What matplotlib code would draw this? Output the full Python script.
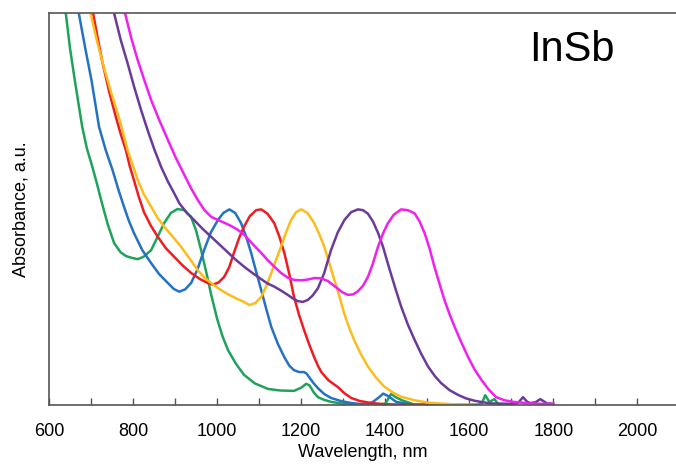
import matplotlib.pyplot as plt
from matplotlib.ticker import MultipleLocator

plt.rcParams['font.family'] = ['Liberation Sans', 'DejaVu Sans']

# wavelength (nm) / absorbance (a.u., 0..1 window)
green_wl = [625, 640, 650, 660, 670, 679, 690, 703, 714, 724, 740, 755, 770, 783, 795,
            811, 825, 843, 858, 874, 890, 906, 922, 938, 950, 962, 975, 986, 1000, 1013,
            1026, 1045, 1064, 1090, 1121, 1150, 1183, 1200, 1212, 1220, 1230, 1240, 1255,
            1271, 1295, 1319, 1380, 1400, 1414, 1425, 1440, 1470, 1620, 1630, 1638, 1648,
            1660, 1670, 1690]
green_ab = [1.10, 0.999, 0.91, 0.838, 0.77, 0.71, 0.655, 0.608, 0.565, 0.523, 0.46,
            0.413, 0.39, 0.38, 0.376, 0.372, 0.378, 0.395, 0.428, 0.464, 0.49, 0.50,
            0.497, 0.48, 0.445, 0.395, 0.335, 0.281, 0.22, 0.175, 0.14, 0.105, 0.077,
            0.055, 0.041, 0.037, 0.036, 0.044, 0.054, 0.05, 0.032, 0.02, 0.013, 0.008,
            0.004, 0.001, 0.001, 0.003, 0.028, 0.02, 0.012, 0.001, 0.001, 0.004, 0.025,
            0.008, 0.015, 0.001, 0.001]

blue_wl = [655, 671, 687, 701, 710, 719, 735, 751, 765, 779, 790, 802, 822, 843, 862,
           883, 897, 910, 924, 938, 953, 969, 985, 1002, 1015, 1029, 1043, 1057, 1069,
           1081, 1093, 1105, 1117, 1129, 1145, 1160, 1172, 1183, 1195, 1207, 1213, 1219,
           1230, 1240, 1255, 1271, 1295, 1319, 1355, 1371, 1388, 1395, 1407, 1426, 1462]
blue_ab = [1.08, 0.999, 0.906, 0.829, 0.77, 0.71, 0.65, 0.60, 0.55, 0.504, 0.47, 0.439,
           0.395, 0.362, 0.334, 0.311, 0.296, 0.289, 0.295, 0.311, 0.345, 0.395, 0.44,
           0.472, 0.49, 0.499, 0.49, 0.464, 0.43, 0.388, 0.34, 0.293, 0.245, 0.199,
           0.155, 0.122, 0.10, 0.089, 0.084, 0.084, 0.08, 0.071, 0.055, 0.043, 0.028,
           0.018, 0.01, 0.005, 0.001, 0.008, 0.022, 0.029, 0.023, 0.008, 0.001]

red_wl = [690, 705, 716, 727, 743, 759, 771, 783, 792, 802, 814, 826, 842, 859, 878,
          898, 918, 938, 958, 978, 990, 1004, 1017, 1029, 1040, 1052, 1064, 1078, 1093,
          1105, 1120, 1136, 1148, 1160, 1172, 1183, 1195, 1207, 1219, 1231, 1240, 1248,
          1265, 1287, 1303, 1319, 1340, 1367, 1400, 1438, 1500]
red_ab = [1.08, 0.999, 0.935, 0.875, 0.80, 0.735, 0.69, 0.65, 0.61, 0.574, 0.53, 0.492,
          0.458, 0.429, 0.40, 0.378, 0.356, 0.337, 0.322, 0.311, 0.307, 0.313, 0.327,
          0.352, 0.388, 0.425, 0.455, 0.482, 0.497, 0.499, 0.488, 0.464, 0.43, 0.388,
          0.333, 0.276, 0.23, 0.191, 0.155, 0.122, 0.10, 0.084, 0.063, 0.046, 0.03,
          0.018, 0.01, 0.005, 0.002, 0.001, 0.001]

yellow_wl = [684, 699, 715, 731, 747, 763, 775, 787, 800, 811, 826, 843, 858, 874, 894,
             914, 934, 954, 970, 986, 1005, 1025, 1045, 1064, 1077, 1091, 1105, 1117,
             1129, 1141, 1152, 1164, 1176, 1188, 1200, 1215, 1231, 1243, 1255, 1267,
             1279, 1291, 1302, 1314, 1326, 1342, 1359, 1378, 1398, 1418, 1438, 1470,
             1502, 1557, 1600]
yellow_ab = [1.08, 0.999, 0.925, 0.86, 0.80, 0.745, 0.70, 0.65, 0.61, 0.574, 0.537,
             0.506, 0.478, 0.455, 0.43, 0.404, 0.374, 0.344, 0.325, 0.311, 0.296, 0.283,
             0.272, 0.263, 0.255, 0.26, 0.276, 0.303, 0.337, 0.372, 0.404, 0.44, 0.472,
             0.492, 0.499, 0.49, 0.464, 0.436, 0.404, 0.362, 0.319, 0.277, 0.235, 0.198,
             0.166, 0.13, 0.098, 0.07, 0.047, 0.032, 0.021, 0.012, 0.006, 0.002, 0.001]

purple_wl = [740, 755, 771, 787, 803, 819, 835, 851, 867, 883, 898, 910, 928, 945, 965,
             986, 1005, 1025, 1045, 1064, 1085, 1105, 1120, 1136, 1152, 1168, 1180, 1192,
             1204, 1216, 1228, 1240, 1255, 1271, 1287, 1303, 1319, 1335, 1347, 1359, 1371,
             1383, 1395, 1406, 1422, 1438, 1454, 1470, 1486, 1502, 1518, 1533, 1553, 1573,
             1592, 1612, 1632, 1652, 1700, 1715, 1728, 1738, 1745, 1758, 1769, 1785, 1800]
purple_ab = [1.07, 0.999, 0.93, 0.872, 0.81, 0.753, 0.70, 0.651, 0.607, 0.57, 0.54,
             0.515, 0.49, 0.472, 0.45, 0.429, 0.41, 0.39, 0.37, 0.353, 0.336, 0.321, 0.31,
             0.302, 0.292, 0.281, 0.272, 0.265, 0.263, 0.268, 0.28, 0.298, 0.337, 0.395,
             0.44, 0.472, 0.492, 0.499, 0.497, 0.488, 0.468, 0.439, 0.403, 0.362, 0.305,
             0.251, 0.205, 0.166, 0.13, 0.098, 0.074, 0.056, 0.038, 0.026, 0.017, 0.011,
             0.007, 0.004, 0.003, 0.004, 0.02, 0.008, 0.005, 0.007, 0.015, 0.004, 0.003]

magenta_wl = [766, 781, 796, 811, 827, 843, 863, 883, 902, 922, 938, 954, 970, 986, 1002,
              1017, 1033, 1049, 1065, 1085, 1105, 1120, 1136, 1152, 1168, 1184, 1200,
              1216, 1232, 1248, 1264, 1276, 1287, 1299, 1311, 1323, 1335, 1347, 1359,
              1371, 1383, 1395, 1406, 1420, 1438, 1454, 1470, 1482, 1494, 1506, 1517,
              1529, 1541, 1553, 1565, 1581, 1597, 1613, 1629, 1646, 1664, 1684, 1705,
              1735, 1769, 1800]
magenta_ab = [1.07, 0.999, 0.935, 0.88, 0.828, 0.778, 0.725, 0.676, 0.63, 0.587, 0.553,
              0.523, 0.497, 0.48, 0.472, 0.465, 0.457, 0.447, 0.434, 0.41, 0.388, 0.37,
              0.353, 0.337, 0.325, 0.319, 0.318, 0.32, 0.324, 0.323, 0.316, 0.306, 0.297,
              0.287, 0.281, 0.282, 0.29, 0.304, 0.327, 0.362, 0.404, 0.438, 0.463, 0.485,
              0.499, 0.497, 0.489, 0.468, 0.438, 0.398, 0.353, 0.31, 0.268, 0.232, 0.20,
              0.16, 0.123, 0.09, 0.064, 0.04, 0.02, 0.012, 0.008, 0.005, 0.003, 0.003]

series = [
    (green_wl, green_ab, '#1fa35b'),
    (blue_wl, blue_ab, '#2472c2'),
    (red_wl, red_ab, '#ee1d23'),
    (yellow_wl, yellow_ab, '#fcbc1c'),
    (purple_wl, purple_ab, '#6b3a9a'),
    (magenta_wl, magenta_ab, '#f020f0'),
]

fig = plt.figure(figsize=(6.76, 4.67), dpi=100)
ax = fig.add_axes([49 / 676, 62 / 467, 1 - 49 / 676, 392 / 467])

for wl, ab, color in series:
    ax.plot(wl, ab, color=color, lw=1.8, solid_joinstyle='round')

ax.set_xlim(600, 2092)
ax.set_ylim(0, 1)
ax.xaxis.set_major_locator(MultipleLocator(200))
ax.xaxis.set_minor_locator(MultipleLocator(100))
ax.tick_params(axis='x', which='both', direction='in', length=5, width=1,
               color='#555555', labelsize=13, pad=13)
ax.set_yticks([])
ax.spines['right'].set_visible(False)
for side in ['left', 'top', 'bottom']:
    ax.spines[side].set_color('#555555')
    ax.spines[side].set_linewidth(1.2)

ax.set_xlabel('Wavelength, nm', fontsize=13, labelpad=3)
ax.set_ylabel('Absorbance, a.u.', fontsize=13, labelpad=14)
ax.text(0.834, 0.906, 'InSb', transform=ax.transAxes, fontsize=30,
        ha='center', va='center')

fig.savefig('out.png', dpi=100)
